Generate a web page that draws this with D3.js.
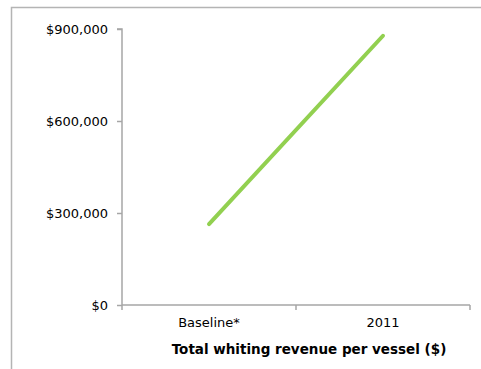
<!DOCTYPE html>
<html>
<head>
<meta charset="utf-8">
<script src="https://cdn.jsdelivr.net/npm/d3@7"></script>
<style>
  html, body { margin: 0; padding: 0; background: #fff; }
  svg { display: block; }
  text { font-family: "DejaVu Sans", Verdana, sans-serif; fill: #000; }
</style>
</head>
<body>
<svg id="chart" width="481" height="369"></svg>
<script>
// Revenue per vessel, baseline vs 2011
const categories = ["Baseline*", "2011"];
const revenue = [264000, 878000];
const yTicks = [0, 300000, 600000, 900000];
const xTitle = "Total whiting revenue per vessel ($)";

const svg = d3.select("#chart");
const W = 481, H = 369;
const plot = { left: 122, right: 470, top: 29, bottom: 305 };
const axisColor = "#a6a6a6";

// outer chart frame (top and left edges)
svg.append("path")
  .attr("d", `M11.5,${H} V7.5 H${W}`)
  .attr("fill", "none")
  .attr("stroke", "#b4b4b4")
  .attr("stroke-width", 1.5);

const x = d3.scaleBand().domain(categories).range([plot.left, plot.right]);
const y = d3.scaleLinear().domain([0, 900000]).range([plot.bottom, plot.top]);

// y axis
const yAxis = d3.axisLeft(y)
  .tickValues(yTicks)
  .tickSize(5)
  .tickPadding(9)
  .tickFormat(d => "$" + d3.format(",")(d));
const gy = svg.append("g").attr("transform", `translate(${plot.left},0)`).call(yAxis);
gy.select(".domain").attr("stroke", axisColor).attr("stroke-width", 1.5)
  .attr("d", `M-5,${plot.top}H0V${plot.bottom}`);
gy.selectAll(".tick line").attr("stroke", axisColor).attr("stroke-width", 1.5);
gy.selectAll(".tick text").style("font-size", "13px")
  .style("font-family", "'DejaVu Sans', Verdana, sans-serif").attr("fill", "#000");

// x axis with tick marks at category boundaries
const gx = svg.append("g").attr("transform", `translate(0,${plot.bottom})`);
gx.append("line")
  .attr("x1", plot.left).attr("x2", plot.right)
  .attr("stroke", axisColor).attr("stroke-width", 1.5);
const bounds = categories.map(c => x(c)).concat([x(categories[categories.length - 1]) + x.bandwidth()]);
gx.selectAll("line.tk").data(bounds).join("line")
  .attr("class", "tk")
  .attr("x1", d => d).attr("x2", d => d)
  .attr("y1", 0).attr("y2", 5)
  .attr("stroke", axisColor).attr("stroke-width", 1.5);
gx.selectAll("text.lbl").data(categories).join("text")
  .attr("class", "lbl")
  .attr("x", d => x(d) + x.bandwidth() / 2)
  .attr("y", 18)
  .attr("dy", "0.32em")
  .attr("text-anchor", "middle")
  .style("font-size", "13px")
  .text(d => d);

// axis title
svg.append("text")
  .attr("x", (plot.left + plot.right) / 2 + 13)
  .attr("y", 349)
  .attr("dy", "0.35em")
  .attr("text-anchor", "middle")
  .style("font-size", "13.5px")
  .style("font-weight", "bold")
  .text(xTitle);

// revenue line
const line = d3.line()
  .x((d, i) => x(categories[i]) + x.bandwidth() / 2)
  .y(d => y(d));
svg.append("path")
  .datum(revenue)
  .attr("d", line)
  .attr("fill", "none")
  .attr("stroke", "#92d050")
  .attr("stroke-width", 4)
  .attr("stroke-linecap", "round");
</script>
</body>
</html>
